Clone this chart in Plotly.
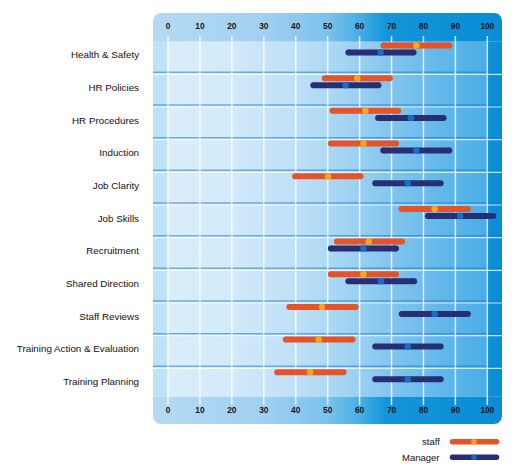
import math
import plotly.graph_objects as go

# ---------------- data ----------------
categories = ["Health & Safety", "HR Policies", "HR Procedures", "Induction",
              "Job Clarity", "Job Skills", "Recruitment", "Shared Direction",
              "Staff Reviews", "Training Action & Evaluation", "Training Planning"]

staff_low = [67.5, 49.1, 51.5, 51.0, 39.8, 73.1, 52.9, 51.0, 38.0, 36.9, 34.2]
staff_mean = [77.8, 59.3, 61.8, 61.2, 50.1, 83.5, 62.9, 61.2, 48.2, 47.2, 44.5]
staff_high = [88.1, 69.5, 72.1, 71.4, 60.3, 93.9, 73.3, 71.4, 58.8, 57.8, 55.0]

manager_low = [56.5, 45.5, 65.8, 67.4, 64.9, 81.4, 51.0, 56.5, 73.2, 64.9, 64.9]
manager_mean = [66.6, 55.6, 76.1, 77.8, 75.1, 91.5, 61.2, 66.7, 83.5, 75.1, 75.1]
manager_high = [76.9, 65.9, 86.3, 88.1, 85.4, 101.9, 71.4, 77.1, 93.9, 85.4, 85.4]

series_names = ["staff", "Manager"]
x_ticks = [0, 10, 20, 30, 40, 50, 60, 70, 80, 90, 100]

# ---------------- layout constants ----------------
FONT = "Liberation Sans, Arial, sans-serif"
W, H = 519, 475
ML, MR, MT, MB = 153, 17, 13, 10
PLOT_W = W - ML - MR            # 349
PAPER_H = H - MT - MB           # 452
PANEL_BOTTOM_PX = 424
Y_DOM0 = (H - MB - PANEL_BOTTOM_PX) / PAPER_H
PANEL_H = PANEL_BOTTOM_PX - MT  # 411

X0, X1 = -4.7, 104.6
Y_TOP, Y_BOT = -1.286, 11.295
TOP_BAND_END = -0.407
BOT_BAND_START = 10.46
GRID_Y0, GRID_Y1 = -0.58, 10.71

ux = (X1 - X0) / PLOT_W      # data units per px (x)
uy = (Y_BOT - Y_TOP) / PANEL_H

STAFF_COLOR = "#e4542b"
STAFF_DOT = "#f7a81c"
MAN_COLOR = "#272e74"
MAN_DOT = "#1a6cc6"
STAFF_OFF = -0.29
MAN_OFF = -0.075


def rrect(x0, x1, y0, y1, r, top=True, bottom=True):
    rx, ry = r * ux, r * uy
    xs, ys = [], []

    def arc(cx, cy, a0, a1):
        for i in range(9):
            a = math.radians(a0 + (a1 - a0) * i / 8)
            xs.append(cx + rx * math.cos(a))
            ys.append(cy + ry * math.sin(a))

    if top:
        arc(x0 + rx, y0 + ry, 180, 270)
        arc(x1 - rx, y0 + ry, 270, 360)
    else:
        xs.extend([x0, x1]); ys.extend([y0, y0])
    if bottom:
        arc(x1 - rx, y1 - ry, 0, 90)
        arc(x0 + rx, y1 - ry, 90, 180)
    else:
        xs.extend([x1, x0]); ys.extend([y1, y1])
    xs.append(xs[0]); ys.append(ys[0])
    return xs, ys


def p(v):
    return (v - X0) / (X1 - X0)


band_scale = [[0, "#b6daf3"], [p(30), "#a1d0f0"], [p(50), "#7cc2ec"],
              [p(60), "#48aee6"], [p(68), "#1495da"], [1, "#0a8cd5"]]
main_scale = [[0, "#c0e1f6"], [p(-0.2), "#c0e1f6"], [p(0.2), "#daeefa"],
              [p(20), "#d2eaf9"], [p(40), "#bfe0f6"], [p(55), "#a4d5f2"],
              [p(70), "#82c5ee"], [p(85), "#63b8ea"], [p(99.6), "#4aaee6"],
              [p(100.2), "#0f92d9"], [1, "#0a8bd4"]]

fig = go.Figure()

# panel background
for (ya, yb, top, bottom, scale) in [
        (Y_TOP, TOP_BAND_END, True, False, band_scale),
        (TOP_BAND_END, BOT_BAND_START, False, False, main_scale),
        (BOT_BAND_START, Y_BOT, False, True, band_scale)]:
    xs, ys = rrect(X0, X1, ya, yb, 8, top, bottom)
    fig.add_trace(go.Scatter(
        x=xs, y=ys, mode="lines", fill="toself", line=dict(width=0),
        fillgradient=dict(type="horizontal", colorscale=scale),
        hoverinfo="skip", showlegend=False))

# row separators
sep_x, sep_y, sep2_y = [], [], []
for k in range(len(categories) - 1):
    yv = k + 0.53
    sep_x += [X0, X1, None]
    sep_y += [yv, yv, None]
    sep2_y += [yv + 2 * uy, yv + 2 * uy, None]
fig.add_trace(go.Scatter(x=sep_x, y=sep_y, mode="lines",
                         line=dict(color="rgba(20,120,205,0.55)", width=1.5),
                         hoverinfo="skip", showlegend=False))
fig.add_trace(go.Scatter(x=sep_x, y=sep2_y, mode="lines",
                         line=dict(color="rgba(255,255,255,0.75)", width=1.2),
                         hoverinfo="skip", showlegend=False))

# vertical grid lines
gx, gy = [], []
for t in x_ticks:
    gx += [t, t, None]
    gy += [GRID_Y0, GRID_Y1, None]
fig.add_trace(go.Scatter(x=gx, y=gy, mode="lines",
                         line=dict(color="rgba(255,255,255,0.8)", width=1.5),
                         hoverinfo="skip", showlegend=False))


def range_trace(lows, highs, off, color, name):
    xs, ys = [], []
    for k, (lo, hi) in enumerate(zip(lows, highs)):
        xs += [lo, hi, None]
        ys += [k + off, k + off, None]
    return go.Scatter(x=xs, y=ys, mode="lines+markers", name=name,
                      line=dict(color=color, width=6),
                      marker=dict(color=color, size=6, line=dict(width=0)),
                      hoverinfo="skip", showlegend=False)


fig.add_trace(range_trace(staff_low, staff_high, STAFF_OFF, STAFF_COLOR, series_names[0]))
fig.add_trace(go.Scatter(x=staff_mean, y=[k + STAFF_OFF for k in range(len(categories))],
                         mode="markers", marker=dict(color=STAFF_DOT, size=6.5, line=dict(width=0)),
                         name=series_names[0], showlegend=False))
fig.add_trace(range_trace(manager_low, manager_high, MAN_OFF, MAN_COLOR, series_names[1]))
fig.add_trace(go.Scatter(x=manager_mean, y=[k + MAN_OFF for k in range(len(categories))],
                         mode="markers", marker=dict(color=MAN_DOT, size=6.5, line=dict(width=0)),
                         name=series_names[1], showlegend=False))

# legend (own small axis in pixel units)
LEG_Y = [441.7, 457.3]
leg_cols = [(STAFF_COLOR, STAFF_DOT), (MAN_COLOR, MAN_DOT)]
for name, ly, (c, d) in zip(series_names, LEG_Y, leg_cols):
    fig.add_trace(go.Scatter(x=[452.5, 496.5], y=[ly, ly], mode="lines+markers",
                             line=dict(color=c, width=5.5),
                             marker=dict(color=c, size=5.5, line=dict(width=0)),
                             xaxis="x3", yaxis="y3", hoverinfo="skip", showlegend=False))
    fig.add_trace(go.Scatter(x=[474], y=[ly], mode="markers",
                             marker=dict(color=d, size=5.5, line=dict(width=0)),
                             xaxis="x3", yaxis="y3", hoverinfo="skip", showlegend=False))
    fig.add_annotation(x=442, y=ly, xref="x3", yref="y3", text=name,
                       showarrow=False, xanchor="right", yanchor="middle",
                       font=dict(family=FONT, size=9.5, color="#111111"))

tickfont = dict(family=FONT, size=8.3, color="#15151c", weight="bold")
fig.update_layout(
    width=W, height=H,
    margin=dict(l=ML, r=MR, t=MT, b=MB),
    paper_bgcolor="white", plot_bgcolor="rgba(0,0,0,0)",
    xaxis=dict(range=[X0, X1], domain=[0, 1], showgrid=False, zeroline=False,
               showline=False, tickvals=x_ticks, ticks="", side="bottom",
               ticklabelposition="inside", ticklabelstandoff=6,
               tickfont=tickfont, anchor="y"),
    xaxis2=dict(range=[X0, X1], overlaying="x", matches="x", showgrid=False,
                zeroline=False, showline=False, tickvals=x_ticks, ticks="",
                side="top", ticklabelposition="inside", ticklabelstandoff=7,
                tickfont=tickfont, anchor="y"),
    yaxis=dict(range=[Y_BOT, Y_TOP], domain=[Y_DOM0, 1], showgrid=False,
               zeroline=False, showline=False,
               tickvals=list(range(len(categories))), ticktext=categories,
               ticks="outside", ticklen=11, tickcolor="rgba(0,0,0,0)",
               tickfont=dict(family=FONT, size=9.8, color="#111111")),
    xaxis3=dict(range=[ML, W - MR], domain=[0, 1], anchor="y3", visible=False),
    yaxis3=dict(range=[H - MB, H - MB - 0.07 * PAPER_H], domain=[0, 0.07],
                anchor="x3", visible=False),
    showlegend=False,
)
# dummy trace to make xaxis2 render its tick labels
fig.add_trace(go.Scatter(x=[None], y=[None], xaxis="x2", yaxis="y",
                         showlegend=False, hoverinfo="skip"))

fig.write_html("out.html")
